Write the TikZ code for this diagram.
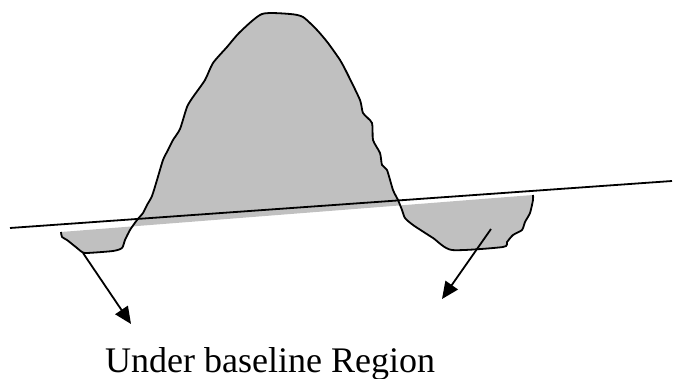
\documentclass[tikz,border=0pt]{standalone}
\usepackage{fontspec}
\setmainfont{Liberation Serif}
\usepackage{tikz}
\usetikzlibrary{calc,arrows.meta,positioning}
\definecolor{areaGray}{RGB}{192,192,192}

\begin{document}
\begin{tikzpicture}[x=1pt,y=-1pt,
    curveline/.style={line width=1.8pt, line join=round},
    pointer/.style={-{Triangle[length=17pt,width=15pt]}, line width=1.8pt}]
    \useasboundingbox (0,0) rectangle (674,379);

    % grey area between the signal and the baseline
    \fill[areaGray] plot[smooth, tension=0.4] coordinates {
        (61,232) (62,237) (67,240) (77,248) (82,252) (87,253) (113,251)
        (122,248) (125,240) (130,230) (137,220) (143,213) (147,205)
        (152,196) (157,180) (163,160) (168,150) (173,140) (180,129)
        (187,107) (193,97) (205,80) (213,63) (227,47) (240,32) (262,14)
        (290,14) (303,17) (317,30) (328,43) (340,60) (347,73) (360,100)
        (363,113) (372,123) (373,140) (380,153) (382,165) (387,170)
        (393,190) (398,200) (402,210) (405,218) (413,225) (433,238)
        (452,250) (503,247) (507,242) (513,235) (522,230) (525,222)
        (530,213) (533,200) (533,195)} -- cycle;

    \draw[curveline] plot[smooth, tension=0.4] coordinates {
        (61,232) (62,237) (67,240) (77,248) (82,252) (87,253) (113,251)
        (122,248) (125,240) (130,230) (137,220) (143,213) (147,205)
        (152,196) (157,180) (163,160) (168,150) (173,140) (180,129)
        (187,107) (193,97) (205,80) (213,63) (227,47) (240,32) (262,14)
        (290,14) (303,17) (317,30) (328,43) (340,60) (347,73) (360,100)
        (363,113) (372,123) (373,140) (380,153) (382,165) (387,170)
        (393,190) (398,200) (402,210) (405,218) (413,225) (433,238)
        (452,250) (503,247) (507,242) (513,235) (522,230) (525,222)
        (530,213) (533,200) (533,195)};

    % baseline
    \coordinate (baseL) at (10,228);
    \coordinate (baseR) at (672,181);
    \draw[line width=1.8pt] (baseL) -- (baseR);

    % arrows out of the two lobes
    \coordinate (lobeL) at (83,253);
    \coordinate (tipL) at (131,324);
    \coordinate (lobeR) at (491,229);
    \coordinate (tipR) at (442,299);
    \draw[pointer] (lobeL) -- (tipL);
    \draw[pointer] (lobeR) -- (tipR);

    \node[anchor=base west, inner sep=0pt, font=\fontsize{36}{40}\selectfont] (label) at (105,372) {Under baseline Region};
\end{tikzpicture}
\end{document}
